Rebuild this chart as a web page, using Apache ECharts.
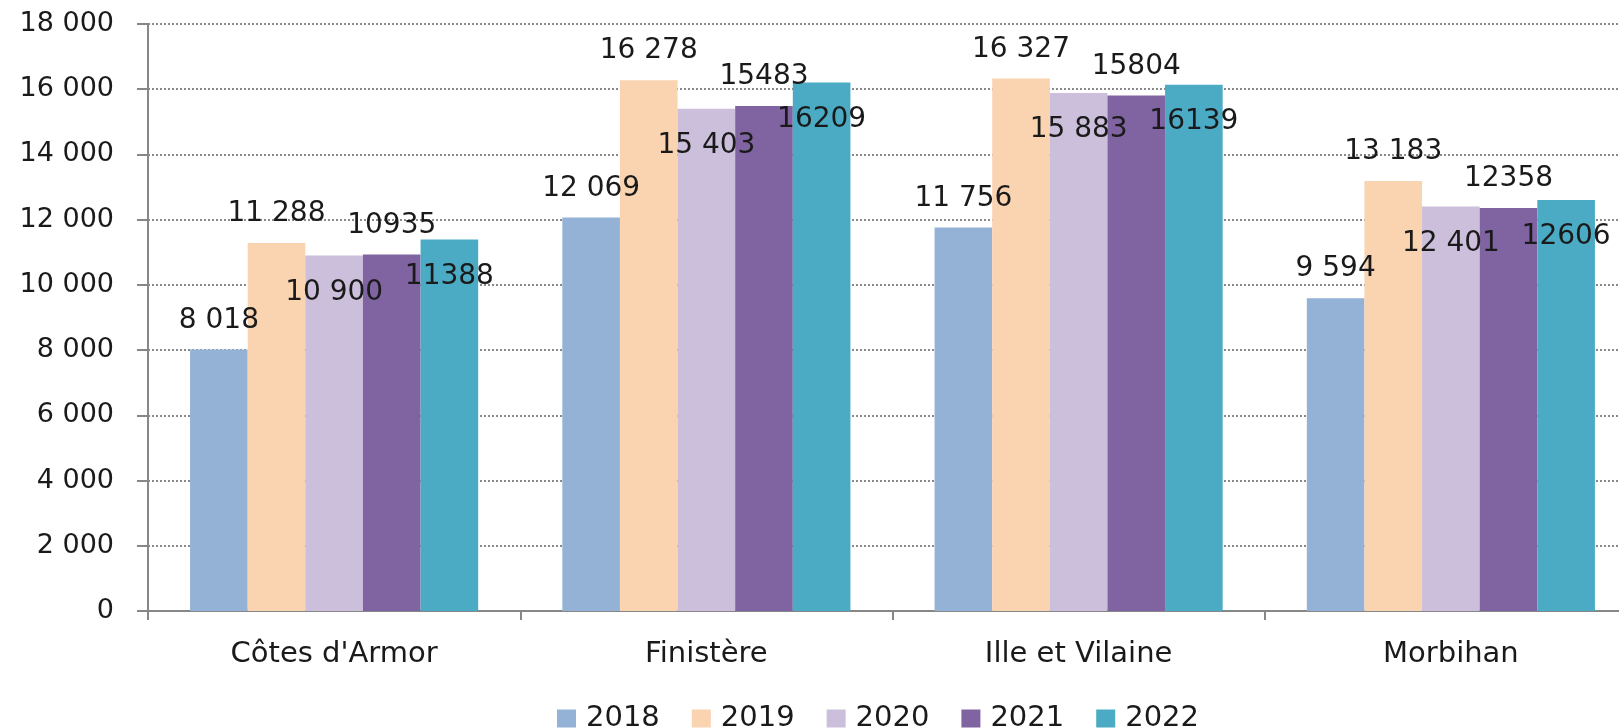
<!DOCTYPE html>
<html>
<head>
<meta charset="utf-8">
<script src="https://cdn.jsdelivr.net/npm/echarts@6/dist/echarts.min.js"></script>
<style>
  html, body { margin: 0; padding: 0; background: #fff; overflow: hidden; }
  /* the source picture is cropped on the right, so the chart runs past the window */
  #chart { width: 1637px; height: 728px; }
</style>
</head>
<body>
<div id="chart"></div>
<script>
var departements = ['Côtes d\'Armor', 'Finistère', 'Ille et Vilaine', 'Morbihan']
var years = ['2018', '2019', '2020', '2021', '2022']
var v2018 = [8018, 12069, 11756, 9594]
var v2019 = [11288, 16278, 16327, 13183]
var v2020 = [10900, 15403, 15883, 12401]
var v2021 = [10935, 15483, 15804, 12358]
var v2022 = [11388, 16209, 16139, 12606]
var yTicks = [0, 2000, 4000, 6000, 8000, 10000, 12000, 14000, 16000, 18000]

var values = [v2018, v2019, v2020, v2021, v2022]
var colors = ['#93b2d6', '#fad3b0', '#ccbfdb', '#8063a1', '#4babc5']
// data labels as in the source: some above, some inside, some with separators
var labelInside = [false, false, true, false, true]
var labelSpaced = [true, true, true, false, false]

function spaced (n) {
  return String(n).replace(/\B(?=(\d{3})+(?!\d))/g, ' ')
}

var font = 'DejaVu Sans'

var series = years.map(function (y, i) {
  return {
    name: y,
    type: 'bar',
    data: values[i],
    barGap: '0%',
    barCategoryGap: '22.6%',
    itemStyle: { color: colors[i] },
    label: {
      show: true,
      position: labelInside[i] ? 'insideTop' : 'top',
      distance: labelInside[i] ? 23 : 15,
      color: '#1a1a1a',
      fontFamily: font,
      fontSize: 28,
      formatter: function (p) {
        return labelSpaced[i] ? spaced(p.value) : String(p.value)
      }
    }
  }
})

var chart = echarts.init(document.getElementById('chart'))
chart.setOption({
  animation: false,
  textStyle: { fontFamily: font },
  grid: { left: 148, right: 0, top: 24, bottom: 117 },
  legend: {
    top: 699,
    left: 552,
    itemWidth: 19,
    itemHeight: 18,
    itemGap: 32,
    icon: 'rect',
    textStyle: { fontFamily: font, fontSize: 29, color: '#1a1a1a', padding: [0, 0, 0, 5] },
    data: years
  },
  xAxis: {
    type: 'category',
    data: departements,
    axisLine: { lineStyle: { color: '#878787', width: 2 } },
    axisTick: { show: true, length: 9, lineStyle: { color: '#878787', width: 2 } },
    axisLabel: { fontFamily: font, fontSize: 29, color: '#1a1a1a', margin: 29 }
  },
  yAxis: {
    type: 'value',
    min: yTicks[0],
    max: yTicks[yTicks.length - 1],
    interval: 2000,
    axisLine: { show: true, lineStyle: { color: '#878787', width: 2 } },
    axisTick: { show: true, length: 11, lineStyle: { color: '#878787', width: 2 } },
    axisLabel: {
      fontFamily: font,
      fontSize: 27,
      color: '#1a1a1a',
      margin: 34,
      formatter: function (v) { return spaced(v) }
    },
    splitLine: { lineStyle: { type: 'dotted', color: '#8a8a8a', width: 2 } }
  },
  series: series
})
</script>
</body>
</html>
